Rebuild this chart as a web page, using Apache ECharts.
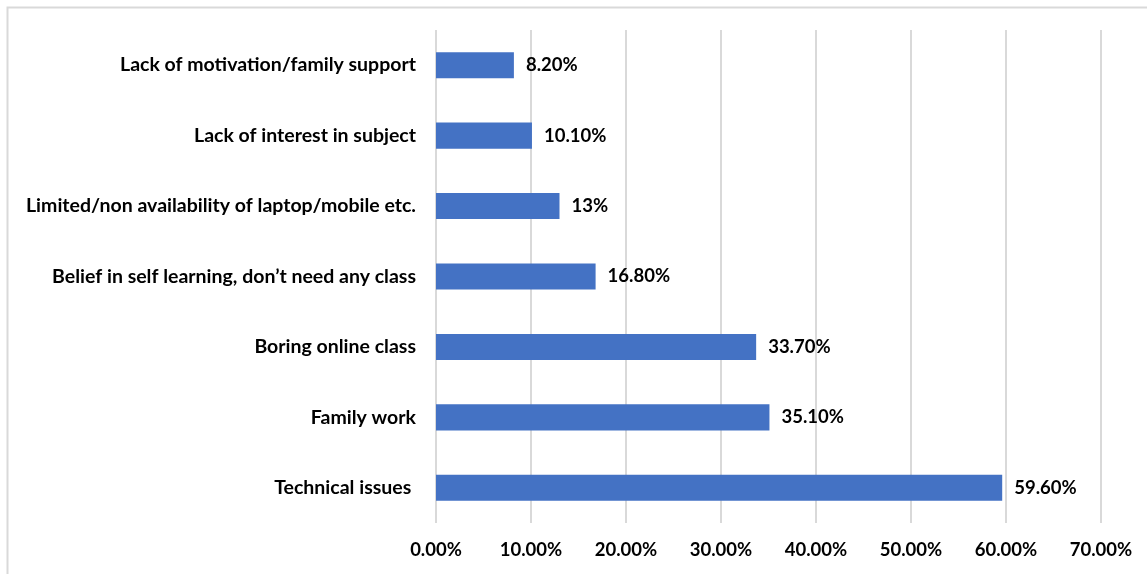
<!DOCTYPE html>
<html>
<head>
<meta charset="utf-8">
<script src="https://cdn.jsdelivr.net/npm/echarts@6/dist/echarts.min.js"></script>
<style>
  html, body { margin: 0; padding: 0; background: #fff; }
  #chart { width: 1147px; height: 574px; }
</style>
</head>
<body>
<div id="chart"></div>
<script>
// Reasons for missing online classes (share of respondents, %)
const categories = [
  'Technical issues ',
  'Family work',
  'Boring online class',
  'Belief in self learning, don\u2019t need any class',
  'Limited/non availability of laptop/mobile etc.',
  'Lack of interest in subject',
  'Lack of motivation/family support'
];
const values = [59.6, 35.1, 33.7, 16.8, 13, 10.1, 8.2];
const valueLabels = ['59.60%', '35.10%', '33.70%', '16.80%', '13%', '10.10%', '8.20%'];

const FONT = 'Lato, "Open Sans", sans-serif';
const chart = echarts.init(document.getElementById('chart'), null, { renderer: 'canvas' });

chart.setOption({
  backgroundColor: '#ffffff',
  animation: false,
  graphic: [{
    type: 'rect',
    shape: { x: 7.5, y: 7.5, width: 1160, height: 600 },
    style: { fill: 'none', stroke: '#d9d9d9', lineWidth: 2 },
    silent: true
  }],
  grid: { left: 436, right: 46, top: 30, bottom: 51, containLabel: false },
  xAxis: {
    type: 'value',
    min: 0,
    max: 70,
    interval: 10,
    axisLine: { show: false },
    axisTick: { show: false },
    splitLine: { show: true, lineStyle: { color: '#d9d9d9', width: 2 } },
    axisLabel: {
      margin: 18,
      color: '#000',
      fontFamily: FONT,
      fontWeight: 'bold',
      fontSize: 18.5,
      formatter: v => v.toFixed(2) + '%'
    }
  },
  yAxis: {
    type: 'category',
    data: categories,
    axisLine: { show: false },
    axisTick: { show: false },
    axisLabel: {
      margin: 20,
      color: '#000',
      fontFamily: FONT,
      fontWeight: 'bold',
      fontSize: 19.5
    }
  },
  series: [{
    type: 'bar',
    data: values,
    barWidth: '37%',
    itemStyle: { color: '#4472c4' },
    label: {
      show: true,
      position: 'right',
      distance: 12,
      color: '#000',
      fontFamily: FONT,
      fontWeight: 'bold',
      fontSize: 18.5,
      formatter: p => valueLabels[p.dataIndex]
    }
  }]
});
</script>
</body>
</html>
